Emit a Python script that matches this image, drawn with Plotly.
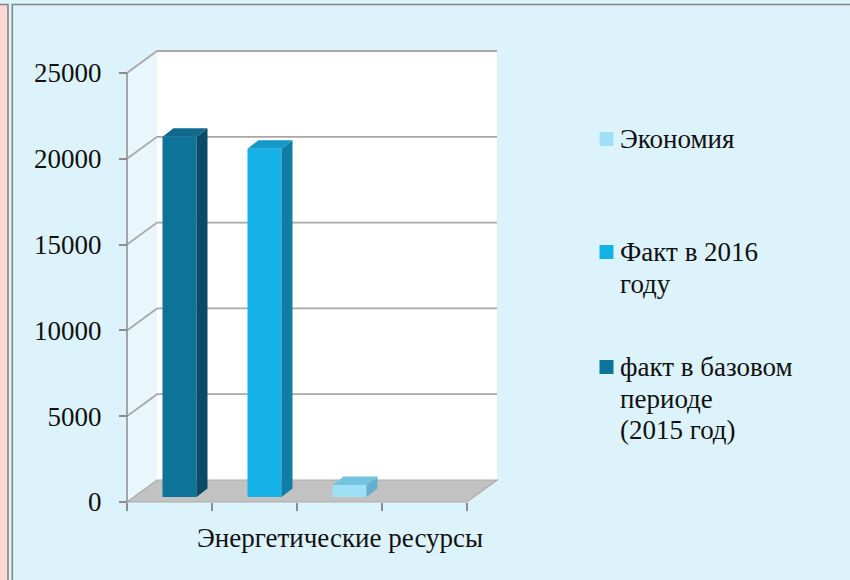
import plotly.graph_objects as go

# ---- data -------------------------------------------------------------
category = "Энергетические ресурсы"
series_names = ["факт в базовом\nпериоде\n(2015 год)", "Факт в 2016\nгоду", "Экономия"]
series_values = [21000, 20300, 700]
y_ticks = [0, 5000, 10000, 15000, 20000, 25000]

# ---- styling ----------------------------------------------------------
front_colors = ["#0E7399", "#14B2E6", "#A0E0F6"]
side_colors = ["#0A4B66", "#0F7DA5", "#62B0CD"]
top_colors = ["#0F6A8E", "#1399C8", "#74C4DF"]
BG = "#DDF3FB"
FONT = "Liberation Serif"
FONT_SIZE = 27
GRID = "#A8A8A8"

W, H = 850, 580
# plot area in pixels
PX_L, PX_R, PX_T, PX_B = 117, 507, 40, 512
# front-plane origin and scale
X0, Y0 = 127, 502
KX = 85.0                 # px per category slot
KY = 429.0 / 25000        # px per value unit
# 3D depth of the floor / walls, in px
DX, DY = 30, 22
# bar placement inside the depth, and bar depth, in px
BAR_DX, BAR_DY = 10, 5
BD_X, BD_Y = 11, 8.5
BAR_W = 0.4


def ux(px):
    return px / KX


def vy(px):
    return px / KY


def xp(px):
    return (px - PX_L) / (PX_R - PX_L)


def yp(py):
    return (PX_B - py) / (PX_B - PX_T)


x_range = [(PX_L - X0) / KX, (PX_R - X0) / KX]
y_range = [-(PX_B - Y0) / KY, (Y0 - PX_T) / KY]
n_slots = 4
ddx, ddy = ux(DX), vy(DY)

shapes = []

# frame: pink strip and the bordered panel
shapes.append(dict(type="rect", xref="paper", yref="paper", x0=xp(-5), x1=xp(8),
                   y0=yp(4.5), y1=yp(620), fillcolor="#FDD9D4",
                   line=dict(color="#858585", width=1.6), layer="below"))
shapes.append(dict(type="rect", xref="paper", yref="paper", x0=xp(12.3), x1=xp(920),
                   y0=yp(4.5), y1=yp(620), fillcolor="rgba(0,0,0,0)",
                   line=dict(color="#858585", width=1.6), layer="below"))

# back wall
shapes.append(dict(type="rect", xref="x", yref="y", x0=ddx, x1=n_slots + ddx,
                   y0=ddy, y1=y_ticks[-1] + ddy, fillcolor="#FFFFFF",
                   line=dict(width=0), layer="below"))
# left side wall
shapes.append(dict(type="path", xref="x", yref="y",
                   path=f"M 0,0 L 0,{y_ticks[-1]} L {ddx},{y_ticks[-1] + ddy} L {ddx},{ddy} Z",
                   fillcolor="#E9F7FC", line=dict(width=0), layer="below"))
# gridlines across side wall and back wall
for t in y_ticks[1:]:
    shapes.append(dict(type="path", xref="x", yref="y",
                       path=f"M 0,{t} L {ddx},{t + ddy} L {n_slots + ddx},{t + ddy}",
                       line=dict(color=GRID, width=1.8), layer="below"))
# floor
shapes.append(dict(type="path", xref="x", yref="y",
                   path=f"M 0,0 L {n_slots},0 L {n_slots + ddx},{ddy} L {ddx},{ddy} Z",
                   fillcolor="#C2C2C2", line=dict(color="#ABABAB", width=1.2), layer="below"))
# front vertical axis line
shapes.append(dict(type="line", xref="x", yref="y", x0=0, x1=0, y0=0, y1=y_ticks[-1],
                   line=dict(color="#8C8C8C", width=1.5), layer="below"))

fig = go.Figure()

# bars: front face as bar trace, side and top faces as filled polygons
for i, (name, v) in enumerate(zip(series_names, series_values)):
    c = i + 0.5 + ux(BAR_DX)
    base = vy(BAR_DY)
    xl, xr = c - BAR_W / 2, c + BAR_W / 2
    bx, by = ux(BD_X), vy(BD_Y)
    fig.add_trace(go.Bar(x=[c], y=[v], base=[base], width=[BAR_W],
                         marker=dict(color=front_colors[i], line=dict(width=0)),
                         name=name.replace("\n", " "), showlegend=False,
                         hoverinfo="skip"))
    fig.add_trace(go.Scatter(
        x=[xr, xr, xr + bx, xr + bx, xr],
        y=[base, base + v, base + v + by, base + by, base],
        fill="toself", fillcolor=side_colors[i], mode="lines",
        line=dict(width=0), showlegend=False, hoverinfo="skip"))
    fig.add_trace(go.Scatter(
        x=[xl, xr, xr + bx, xl + bx, xl],
        y=[base + v, base + v, base + v + by, base + v + by, base + v],
        fill="toself", fillcolor=top_colors[i], mode="lines",
        line=dict(width=0), showlegend=False, hoverinfo="skip"))

# legend (reverse order, top to bottom)
annotations = []
legend_top = [139, 252, 367]
line_step = 31.5
for k, idx in enumerate(reversed(range(len(series_names)))):
    y0 = legend_top[k]
    shapes.append(dict(type="rect", xref="paper", yref="paper",
                       x0=xp(599.5), x1=xp(613.5), y0=yp(y0 - 7), y1=yp(y0 + 7),
                       fillcolor=front_colors[idx], line=dict(width=0)))
    for j, line in enumerate(series_names[idx].split("\n")):
        annotations.append(dict(xref="paper", yref="paper", x=xp(618), y=yp(y0 + j * line_step),
                                xanchor="left", yanchor="middle", showarrow=False,
                                text=line, font=dict(family=FONT, size=FONT_SIZE, color="#111111")))

# category label
annotations.append(dict(xref="paper", yref="paper", x=xp(340), y=yp(538),
                        xanchor="center", yanchor="middle", showarrow=False,
                        text=category, font=dict(family=FONT, size=FONT_SIZE, color="#111111")))

fig.update_layout(
    width=W, height=H,
    margin=dict(l=PX_L, r=W - PX_R, t=PX_T, b=H - PX_B, pad=0),
    paper_bgcolor=BG, plot_bgcolor="rgba(0,0,0,0)",
    barmode="overlay", showlegend=False,
    shapes=shapes, annotations=annotations,
    xaxis=dict(range=x_range, showgrid=False, zeroline=False, showline=False,
               tickmode="array", tickvals=list(range(n_slots + 1)),
               ticks="outside", ticklen=8, tickwidth=1.5, tickcolor="#8C8C8C",
               showticklabels=False, anchor="free", position=yp(Y0), fixedrange=True),
    yaxis=dict(range=y_range, showgrid=False, zeroline=False, showline=False,
               tickmode="array", tickvals=y_ticks, ticktext=[str(t) for t in y_ticks],
               ticks="outside", ticklen=8, tickwidth=1.5, tickcolor="#8C8C8C",
               ticklabelstandoff=12,
               tickfont=dict(family=FONT, size=FONT_SIZE, color="#111111"),
               anchor="free", position=xp(X0), fixedrange=True),
)

fig.write_html("out.html")
